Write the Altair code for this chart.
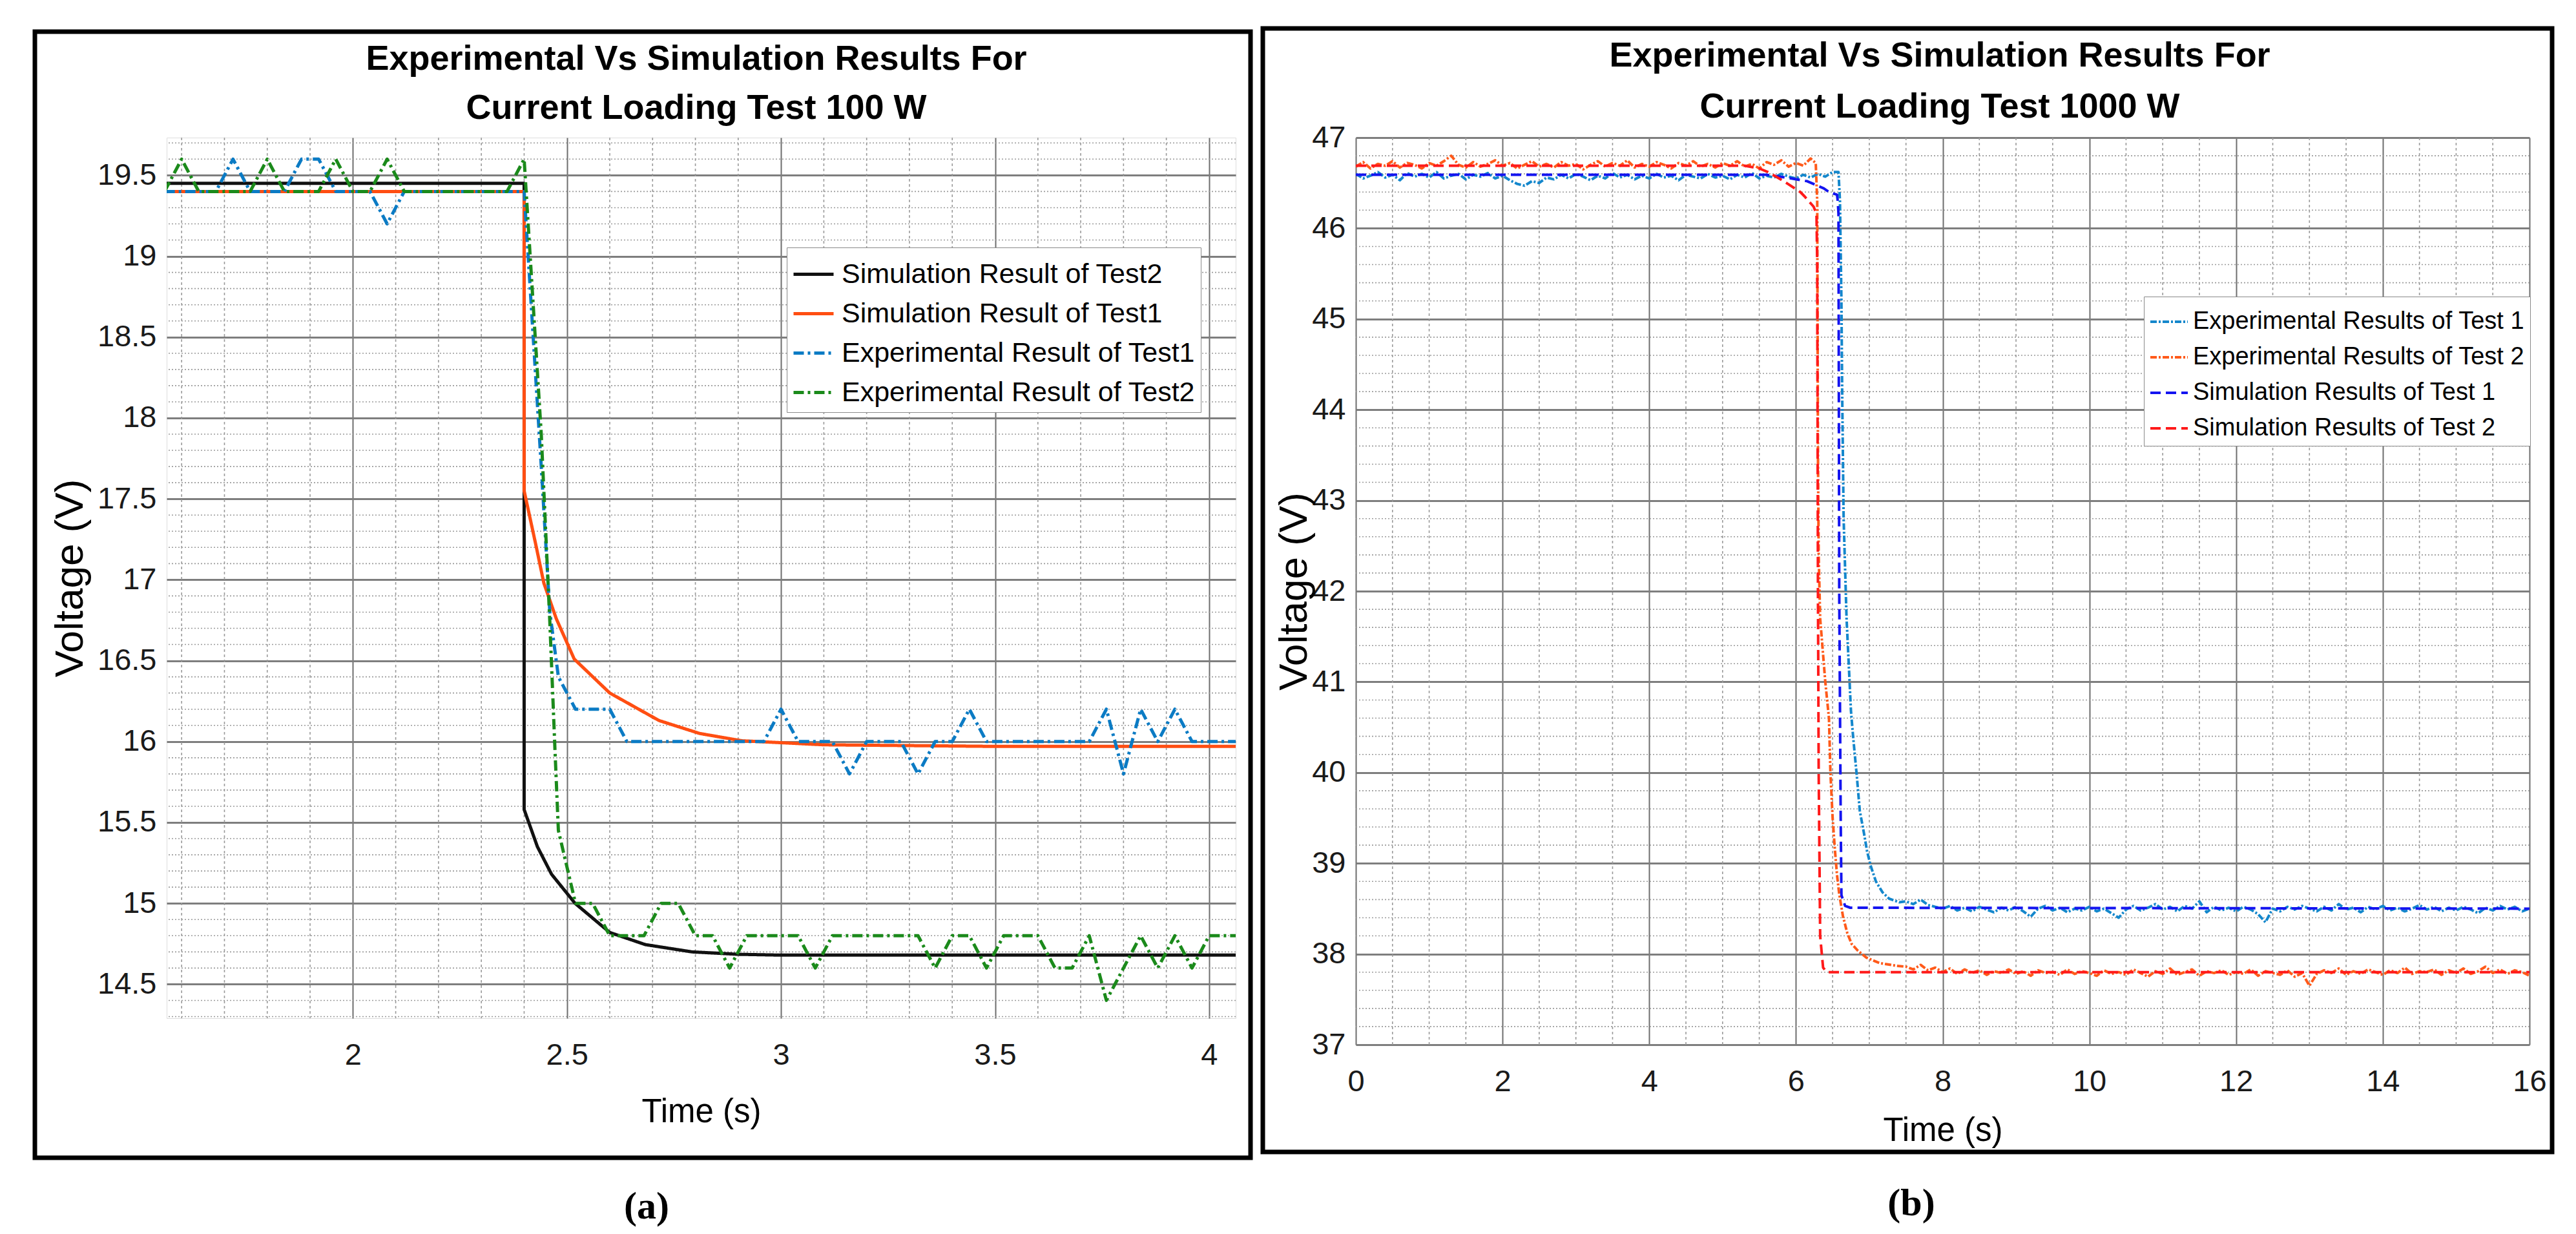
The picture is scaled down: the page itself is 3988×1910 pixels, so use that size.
import altair as alt
import pandas as pd

# ------------------------------------------------------------------ fonts
SANS = "Liberation Sans, Arial, Helvetica, sans-serif"
SERIF = "Liberation Serif, Times New Roman, serif"

# ================================================================== panel (a) data
a_title = ["Experimental Vs Simulation Results For", "Current Loading Test 100 W"]
a_series = ["Simulation Result of Test2", "Simulation Result of Test1",
            "Experimental Result of Test1", "Experimental Result of Test2"]
a_xticks = [2, 2.5, 3, 3.5, 4]
a_yticks = [14.5, 15, 15.5, 16, 16.5, 17, 17.5, 18, 18.5, 19, 19.5]

a_sim2_t = [1.56, 2.40, 2.40, 2.431, 2.464, 2.519, 2.60, 2.683, 2.792, 2.90, 3.00, 3.50, 4.08]
a_sim2_v = [19.45, 19.45, 15.58, 15.35, 15.18, 15.00, 14.82, 14.745, 14.70, 14.685, 14.68, 14.68, 14.68]

a_sim1_t = [1.56, 2.40, 2.40, 2.427, 2.446, 2.475, 2.517, 2.60, 2.715, 2.81, 2.908, 3.10, 3.50, 4.08]
a_sim1_v = [19.40, 19.40, 17.55, 17.22, 16.98, 16.76, 16.51, 16.30, 16.13, 16.05, 16.005, 15.98, 15.97, 15.97]

a_exp1_t = [1.56, 1.68, 1.72, 1.76, 1.84, 1.88, 1.92, 1.96, 2.04, 2.08,
            2.12, 2.40, 2.44, 2.46, 2.48, 2.52, 2.60, 2.64, 2.96, 3.00,
            3.04, 3.12, 3.16, 3.20, 3.28, 3.32, 3.36, 3.40, 3.44, 3.48,
            3.72, 3.76, 3.80, 3.84, 3.88, 3.92, 3.96, 4.08]
a_exp1_v = [19.4, 19.4, 19.6, 19.4, 19.4, 19.6, 19.6, 19.4, 19.4, 19.2,
            19.4, 19.4, 17.7, 16.8, 16.4, 16.2, 16.2, 16.0, 16.0, 16.2,
            16.0, 16.0, 15.8, 16.0, 16.0, 15.8, 16.0, 16.0, 16.2, 16.0,
            16.0, 16.2, 15.8, 16.2, 16.0, 16.2, 16.0, 16.0]

a_exp2_t = [1.56, 1.60, 1.64, 1.76, 1.80, 1.84, 1.92, 1.96, 2.00, 2.04,
            2.08, 2.12, 2.36, 2.40, 2.44, 2.46, 2.472, 2.48, 2.52, 2.56,
            2.60, 2.68, 2.72, 2.76, 2.80, 2.84, 2.88, 2.92, 3.04, 3.08,
            3.12, 3.32, 3.36, 3.40, 3.44, 3.48, 3.52, 3.60, 3.64, 3.68,
            3.72, 3.76, 3.84, 3.88, 3.92, 3.96, 4.00, 4.08]
a_exp2_v = [19.4, 19.6, 19.4, 19.4, 19.6, 19.4, 19.4, 19.6, 19.4, 19.4,
            19.6, 19.4, 19.4, 19.6, 17.9, 16.74, 15.95, 15.45, 15.0, 15.0,
            14.8, 14.8, 15.0, 15.0, 14.8, 14.8, 14.6, 14.8, 14.8, 14.6,
            14.8, 14.8, 14.6, 14.8, 14.8, 14.6, 14.8, 14.8, 14.6, 14.6,
            14.8, 14.4, 14.8, 14.6, 14.8, 14.6, 14.8, 14.8]

# ================================================================== panel (b) data
b_title = ["Experimental Vs Simulation Results For", "Current Loading Test 1000 W"]
b_series = ["Experimental Results of Test 1", "Experimental Results of Test 2",
            "Simulation Results of Test 1", "Simulation Results of Test 2"]
b_xticks = [0, 2, 4, 6, 8, 10, 12, 14, 16]
b_yticks = [37, 38, 39, 40, 41, 42, 43, 44, 45, 46, 47]

# experimental test 1: readings every 0.1 s before the step (0.0 .. 6.5 s)
b_exp1_pre = [46.60, 46.55, 46.58, 46.62, 46.56, 46.59, 46.53, 46.61, 46.57, 46.60,
              46.56, 46.62, 46.55, 46.58, 46.60, 46.54, 46.59, 46.57, 46.61, 46.55,
              46.58, 46.53, 46.49, 46.47, 46.52, 46.50, 46.56, 46.54, 46.59, 46.55,
              46.60, 46.57, 46.53, 46.58, 46.55, 46.61, 46.56, 46.59, 46.54, 46.58,
              46.55, 46.60, 46.56, 46.58, 46.53, 46.59, 46.57, 46.55, 46.60, 46.56,
              46.58, 46.54, 46.59, 46.56, 46.61, 46.55, 46.58, 46.56, 46.60, 46.57,
              46.55, 46.59, 46.56, 46.60, 46.57, 46.62]
b_exp1_tr_t = [6.58, 6.60, 6.62, 6.63, 6.65, 6.69, 6.75, 6.78, 6.83, 6.87, 6.93, 6.97,
               7.02, 7.09, 7.18, 7.27, 7.41]
b_exp1_tr_v = [46.62, 46.30, 45.20, 44.20, 42.80, 41.70, 40.68, 40.39, 39.96, 39.58, 39.32, 39.13,
               38.97, 38.80, 38.68, 38.61, 38.57]
# readings every 0.1 s after the step (7.5 .. 16.0 s)
b_exp1_post = [38.58, 38.55, 38.60, 38.54, 38.52,
               38.50, 38.53, 38.48, 38.51, 38.47, 38.52, 38.49, 38.46, 38.51, 38.48,
               38.52, 38.47, 38.41, 38.50, 38.53, 38.48, 38.51, 38.46, 38.50, 38.48,
               38.52, 38.47, 38.50, 38.45, 38.40, 38.49, 38.53, 38.48, 38.51, 38.55,
               38.49, 38.52, 38.47, 38.53, 38.50, 38.58, 38.46, 38.52, 38.48, 38.51,
               38.47, 38.52, 38.49, 38.44, 38.35, 38.50, 38.47, 38.52, 38.49, 38.53,
               38.50, 38.47, 38.52, 38.48, 38.55, 38.49, 38.51, 38.46, 38.52, 38.49,
               38.53, 38.48, 38.51, 38.47, 38.50, 38.54, 38.49, 38.52, 38.47, 38.51,
               38.48, 38.52, 38.49, 38.45, 38.51, 38.48, 38.53, 38.49, 38.52, 38.47, 38.50]

# experimental test 2: readings every 0.1 s before the step (0.0 .. 6.2 s)
b_exp2_pre = [46.68, 46.73, 46.66, 46.71, 46.69, 46.74, 46.67, 46.72, 46.70, 46.66,
              46.72, 46.69, 46.74, 46.80, 46.70, 46.67, 46.73, 46.68, 46.71, 46.75,
              46.69, 46.72, 46.66, 46.70, 46.74, 46.68, 46.71, 46.67, 46.73, 46.69,
              46.71, 46.65, 46.70, 46.74, 46.68, 46.72, 46.69, 46.75, 46.67, 46.71,
              46.68, 46.73, 46.70, 46.66, 46.72, 46.69, 46.74, 46.68, 46.71, 46.67,
              46.72, 46.69, 46.74, 46.68, 46.71, 46.66, 46.73, 46.70, 46.75, 46.68,
              46.72, 46.69, 46.77]
b_exp2_tr_t = [6.27, 6.29, 6.30, 6.31, 6.33, 6.40, 6.45, 6.47, 6.50, 6.53, 6.56, 6.59,
               6.64, 6.70, 6.76, 6.84, 6.96, 7.14, 7.37]
b_exp2_tr_v = [46.72, 46.30, 43.50, 42.40, 41.70, 41.00, 40.60, 40.00, 39.50, 39.16, 38.87, 38.66,
               38.42, 38.23, 38.11, 38.04, 37.96, 37.90, 37.87]
b_exp2_post = [37.86, 37.83, 37.88, 37.82, 37.85,
               37.80, 37.84, 37.78, 37.83, 37.79, 37.82, 37.77, 37.81, 37.79, 37.83,
               37.78, 37.81, 37.76, 37.82, 37.79, 37.80, 37.77, 37.83, 37.78, 37.81,
               37.79, 37.76, 37.82, 37.78, 37.80, 37.77, 37.83, 37.79, 37.75, 37.81,
               37.78, 37.84, 37.77, 37.80, 37.83, 37.76, 37.81, 37.79, 37.82, 37.77,
               37.80, 37.78, 37.83, 37.76, 37.81, 37.79, 37.77, 37.82, 37.75, 37.79,
               37.65, 37.78, 37.82, 37.79, 37.84, 37.77, 37.81, 37.78, 37.83, 37.80,
               37.77, 37.82, 37.79, 37.85, 37.78, 37.81, 37.80, 37.83, 37.77, 37.82,
               37.79, 37.84, 37.78, 37.81, 37.86, 37.79, 37.83, 37.78, 37.82, 37.80, 37.76]

b_sim1_t = [0.0, 5.60, 5.86, 6.15, 6.38, 6.45, 6.56, 6.57, 6.58, 6.59, 6.61, 6.62, 6.67, 6.74, 16.0]
b_sim1_v = [46.59, 46.59, 46.56, 46.52, 46.44, 46.40, 46.37, 46.30, 46.16, 42.00, 39.50, 38.65, 38.53, 38.51, 38.50]

b_sim2_t = [0.0, 5.30, 5.50, 5.62, 5.79, 5.89, 6.06, 6.12, 6.24, 6.28, 6.29, 6.30, 6.31, 6.33, 6.37, 6.42, 16.0]
b_sim2_v = [46.69, 46.69, 46.66, 46.62, 46.54, 46.49, 46.40, 46.35, 46.24, 46.16, 45.60, 42.00, 40.00, 38.20, 37.85, 37.80, 37.80]


# ------------------------------------------------------------------ helpers
def frame(name, t, v):
    assert len(t) == len(v), name
    return pd.DataFrame({"t": t, "v": v, "series": name, "idx": list(range(len(t)))})


def sampled(start10, values):
    return [round((start10 + i) / 10.0, 1) for i in range(len(values))]


def minor(lo, hi, step, majors):
    out = []
    k = 0
    while True:
        val = round(lo + k * step, 3)
        if val > hi:
            break
        if all(abs(val - m) > 1e-6 for m in majors):
            out.append(val)
        k += 1
    return out


df_a = pd.concat([
    frame(a_series[0], a_sim2_t, a_sim2_v),
    frame(a_series[1], a_sim1_t, a_sim1_v),
    frame(a_series[2], a_exp1_t, a_exp1_v),
    frame(a_series[3], a_exp2_t, a_exp2_v),
], ignore_index=True)

df_b = pd.concat([
    frame(b_series[0],
          sampled(0, b_exp1_pre) + b_exp1_tr_t + sampled(75, b_exp1_post),
          b_exp1_pre + b_exp1_tr_v + b_exp1_post),
    frame(b_series[1],
          sampled(0, b_exp2_pre) + b_exp2_tr_t + sampled(75, b_exp2_post),
          b_exp2_pre + b_exp2_tr_v + b_exp2_post),
    frame(b_series[2], b_sim1_t, b_sim1_v),
    frame(b_series[3], b_sim2_t, b_sim2_v),
], ignore_index=True)


def panel(df, series, colors, dashes, widths, xdom, ydom, xticks, yticks,
          xminor, yminor, W, H, title, title_x, title_y, leg_x, leg_y,
          leg_font, leg_sym, leg_off, tag, tag_x, tag_y, rect,
          ytitle_pad, xtitle_pad):
    xaxis = alt.Axis(values=xticks, format="~g", title="Time (s)",
                     titleFont=SANS, titleFontSize=51, titleFontWeight="normal",
                     titleColor="black", titlePadding=xtitle_pad,
                     labelFont=SANS, labelFontSize=47, labelColor="#1a1a1a",
                     labelPadding=34, labelFlush=False, labelOverlap=False,
                     ticks=False, tickSize=0, domain=False,
                     grid=True, gridColor="#6e6e6e", gridWidth=2)
    yaxis = alt.Axis(values=yticks, format="~g", title="Voltage (V)",
                     titleFont=SANS, titleFontSize=62, titleFontWeight="normal",
                     titleColor="black", titlePadding=ytitle_pad,
                     labelFont=SANS, labelFontSize=47, labelColor="#1a1a1a",
                     labelPadding=16, labelFlush=False, labelOverlap=False,
                     ticks=False, tickSize=0, domain=False,
                     grid=True, gridColor="#7e7e7e", gridWidth=3)
    X = alt.X("t:Q", scale=alt.Scale(domain=xdom, nice=False, zero=False), axis=xaxis)
    Y = alt.Y("v:Q", scale=alt.Scale(domain=ydom, nice=False, zero=False), axis=yaxis)

    gx = alt.Chart(pd.DataFrame({"t": xminor})).mark_rule(
        color="#9a9a9a", strokeWidth=1.6, strokeDash=[4, 4]).encode(x=X)
    gy = alt.Chart(pd.DataFrame({"v": yminor})).mark_rule(
        color="#9a9a9a", strokeWidth=1.6, strokeDash=[2, 3]).encode(y=Y)

    lines = alt.Chart(df).mark_line(clip=True, strokeCap="butt", strokeJoin="round").encode(
        x=X, y=Y,
        order=alt.Order("idx:Q"),
        color=alt.Color("series:N", sort=series,
                        scale=alt.Scale(domain=series, range=colors),
                        legend=alt.Legend(orient="none", legendX=leg_x, legendY=leg_y,
                                          title=None, labelFont=SANS,
                                          labelFontSize=leg_font, labelColor="black",
                                          labelLimit=3000, symbolType="stroke",
                                          symbolSize=leg_sym * leg_sym,
                                          symbolStrokeWidth=4.5, rowPadding=5,
                                          padding=8, labelOffset=leg_off,
                                          strokeColor="#8a8a8a", fillColor="white")),
        strokeDash=alt.StrokeDash("series:N", sort=series,
                                  scale=alt.Scale(domain=series, range=dashes),
                                  legend=None),
        strokeWidth=alt.StrokeWidth("series:N",
                                    scale=alt.Scale(domain=series, range=widths),
                                    legend=None),
    )

    one = pd.DataFrame({"k": [0]})
    border = alt.Chart(one).mark_rect(fillOpacity=0, stroke="black", strokeWidth=7).encode(
        x=alt.value(rect[0]), x2=alt.value(rect[1]),
        y=alt.value(rect[2]), y2=alt.value(rect[3]))

    texts = []
    for line, yy in zip(title, title_y):
        texts.append(alt.Chart(pd.DataFrame({"txt": [line]})).mark_text(
            font=SANS, fontSize=54, fontWeight="bold", color="black",
            align="center", baseline="middle").encode(
            text="txt:N", x=alt.value(title_x), y=alt.value(yy)))
    texts.append(alt.Chart(pd.DataFrame({"txt": [tag]})).mark_text(
        font=SERIF, fontSize=60, fontWeight="bold", color="black",
        align="center", baseline="middle").encode(
        text="txt:N", x=alt.value(tag_x), y=alt.value(tag_y)))

    return alt.layer(gx, gy, lines, border, *texts).properties(width=W, height=H)


a_minor_x = minor(1.6, 4.06, 0.1, a_xticks)
a_minor_y = minor(14.3, 19.73, 0.1, a_yticks)
b_minor_x = minor(0.5, 15.5, 0.5, b_xticks)
b_minor_y = minor(37.2, 46.8, 0.2, b_yticks)

WA, HA = 1655, 1363
WB, HB = 1817, 1404

chart_a = panel(
    df_a, a_series,
    ["#111111", "#FF4E12", "#0B7BC4", "#1B8A1B"],
    [[1, 0], [1, 0], [16, 6, 4, 6], [16, 6, 4, 6]],
    [5, 5, 4.5, 4.5],
    [1.565, 4.062], [14.29, 19.733], a_xticks, a_yticks,
    a_minor_x, a_minor_y, WA, HA,
    a_title, 820, [-121, -45], 960, 170, 43, 62, 10,
    "(a)", 743, 1655, [-204, WA + 23, -164, HA + 216],
    10, 40)

chart_b = panel(
    df_b, b_series,
    ["#1487CC", "#FF5A1A", "#1414F0", "#FF1A1A"],
    [[10, 3, 3, 3], [10, 3, 3, 3], [16, 8], [16, 8]],
    [4, 4, 4.5, 4.5],
    [0, 16], [37, 47], b_xticks, b_yticks,
    b_minor_x, b_minor_y, WB, HB,
    b_title, 904, [-126, -47], 1220, 246, 38, 58, 6,
    "(b)", 860, 1650, [-144, WB + 35, -169, HB + 166],
    -5, 28)

chart = alt.hconcat(chart_a, chart_b, spacing=11).resolve_scale(
    color="independent", strokeDash="independent", strokeWidth="independent"
).properties(
    padding={"left": 42, "top": 32, "right": 5, "bottom": 5}
).configure_view(
    stroke="#9a9a9a", strokeWidth=2
).configure_legend(
    strokeWidth=2
).configure(background="white")

chart.save("out.html", embed_options={"renderer": "svg", "actions": False})
